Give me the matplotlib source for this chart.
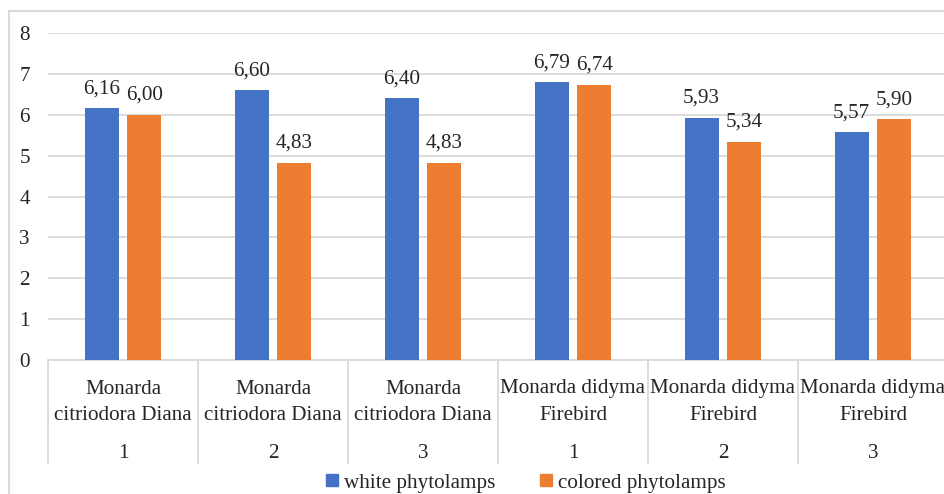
import matplotlib.pyplot as plt
import matplotlib.transforms as mtransforms
from matplotlib.patches import Rectangle, Patch
import numpy as np

plt.rcParams['font.family'] = ['Liberation Serif', 'DejaVu Serif']

# data
group_labels = ["Monarda\ncitriodora Diana", "Monarda\ncitriodora Diana", "Monarda\ncitriodora Diana",
                "Monarda didyma\nFirebird", "Monarda didyma\nFirebird", "Monarda didyma\nFirebird"]
sub_labels = ["1", "2", "3", "1", "2", "3"]
white = [6.16, 6.60, 6.40, 6.79, 5.93, 5.57]
colored = [6.00, 4.83, 4.83, 6.74, 5.34, 5.90]
series_names = ["white phytolamps", "colored phytolamps"]

blue = "#4472C4"
orange = "#ED7D31"
grid_c = "#d9d9d9"
txt_c = "#262626"
fs = 15.2

W, H = 944, 494
fig = plt.figure(figsize=(W / 100, H / 100), dpi=100)

# outer chart border (cut at right/bottom like the reference)
fig.patches.append(Rectangle((9 / W, -0.2), 1.2, 1 - 11 / H + 0.2, transform=fig.transFigure,
                             fill=False, edgecolor=grid_c, linewidth=1.5))

left, right = 48 / W, 948 / W
bottom, top = 1 - 360 / H, 1 - 33 / H
ax = fig.add_axes([left, bottom, right - left, top - bottom])

x = np.arange(len(white)) + 0.5
bw = 0.227
off = 0.143
b1 = ax.bar(x - off, white, bw, color=blue, zorder=3)
b2 = ax.bar(x + off, colored, bw, color=orange, zorder=3)

for bars, vals in [(b1, white), (b2, colored)]:
    for b, v in zip(bars, vals):
        ax.annotate(f"{v:.2f}".replace(".", ","), (b.get_x() + b.get_width() / 2, v),
                    xytext=(0, 7), textcoords="offset points", ha="center", va="bottom",
                    fontsize=fs, color=txt_c)

ax.set_xlim(0, 6)
ax.set_ylim(0, 8)
ax.set_yticks(range(0, 9))
ax.yaxis.grid(True, color=grid_c, linewidth=1.3, zorder=0)
ax.tick_params(axis="y", length=0, pad=13, labelsize=fs, labelcolor=txt_c)
ax.set_xticks([])
for s in ["top", "right", "left"]:
    ax.spines[s].set_visible(False)
ax.spines["bottom"].set_color(grid_c)
ax.spines["bottom"].set_linewidth(1.3)

# multi-level category labels
trans = mtransforms.blended_transform_factory(ax.transData, ax.transAxes)
ah = 327.0
for xi, g, s in zip(x, group_labels, sub_labels):
    ax.text(xi, -42 / ah, g, transform=trans, ha="center", va="center", fontsize=fs,
            color=txt_c, linespacing=1.5)
    ax.text(xi, -93 / ah, s, transform=trans, ha="center", va="center", fontsize=fs, color=txt_c)
for xs in range(0, 7):
    ax.plot([xs, xs], [0, -103 / ah], transform=trans, color=grid_c, linewidth=1.3, clip_on=False)

handles = [Patch(color=blue), Patch(color=orange)]
fig.legend(handles, series_names, loc="center", bbox_to_anchor=(526 / W, 11 / H), ncol=2,
           frameon=False, fontsize=fs, handlelength=0.55, handleheight=0.55, handletextpad=0.3,
           columnspacing=2.1, labelcolor=txt_c)

fig.savefig("out.png", dpi=100)
